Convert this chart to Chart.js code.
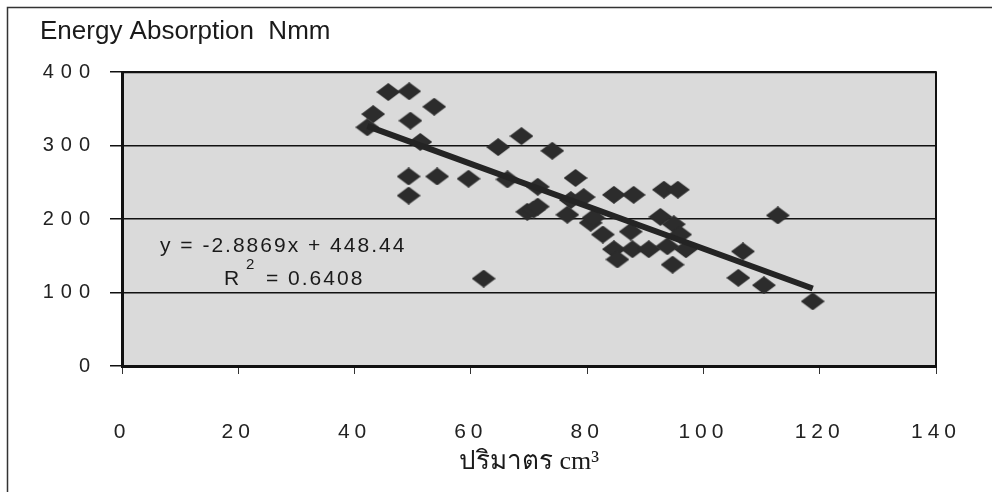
<!DOCTYPE html>
<html>
<head>
<meta charset="utf-8">
<script src="https://cdn.jsdelivr.net/npm/chart.js@4.4.1/dist/chart.umd.min.js"></script>
<style>
  html, body { margin: 0; padding: 0; background: #fff; }
  #wrap { width: 992px; height: 492px; }
</style>
</head>
<body>
<div id="wrap"><canvas id="energyChart" width="992" height="492"></canvas></div>
<script>
// specimen volume (cm3) and absorbed energy (Nmm)
const volume = [42.2, 43.2, 45.8, 49.4, 49.6, 53.7, 51.3, 49.3, 49.3, 54.2,
                59.6, 62.2, 64.7, 66.3, 68.7, 69.7, 70.8, 71.5, 71.5, 74.0,
                77.2, 76.6, 78.0, 79.4, 80.6, 81.1, 82.7, 84.6, 84.6, 85.2,
                87.5, 87.8, 88.0, 90.6, 92.6, 93.2, 93.8, 94.7, 94.9, 95.6,
                96.0, 97.0, 106.8, 106.0, 110.4, 112.8, 118.8];
const energy = [325, 343, 373, 374, 334, 353, 305, 258, 232, 258,
                255, 119, 298, 254, 313, 210, 213, 244, 217, 293,
                226, 206, 256, 230, 195, 202, 179, 233, 159, 145,
                183, 159, 233, 159, 203, 240, 163, 138, 193, 240,
                179, 159, 156, 120, 110, 205, 88];

const xTicks = [0, 20, 40, 60, 80, 100, 120, 140];
const yTicks = [0, 100, 200, 300, 400];

// linear trend line printed on the chart
const trendSlope = -2.8869;
const trendIntercept = 448.44;
const trendR2 = 0.6408;

const X_TICK_SPACING = '5px';
const Y_TICK_SPACING = '7px';

document.addEventListener("DOMContentLoaded", function() {
    const points = volume.map((v, i) => ({ x: v, y: energy[i] }));

    const xMin = Math.min(...volume);
    const xMax = Math.max(...volume);
    const trend = [xMin, xMax].map(x => ({ x: x, y: trendSlope * x + trendIntercept }));

    // wide diamond marker
    const diamond = document.createElement('canvas');
    diamond.width = 24;
    diamond.height = 18;
    const dctx = diamond.getContext('2d');
    dctx.fillStyle = '#2c2c2c';
    dctx.beginPath();
    dctx.moveTo(0, 9);
    dctx.lineTo(12, 0);
    dctx.lineTo(24, 9);
    dctx.lineTo(12, 18);
    dctx.closePath();
    dctx.fill();

    // page frame, grey plot fill and the right/top plot edges
    const plotFrame = {
        id: 'plotFrame',
        beforeDraw(chart) {
            const ctx = chart.ctx;
            const a = chart.chartArea;
            ctx.save();
            ctx.fillStyle = '#ffffff';
            ctx.fillRect(0, 0, chart.width, chart.height);
            ctx.strokeStyle = '#333';
            ctx.lineWidth = 1.5;
            ctx.beginPath();
            ctx.moveTo(7.5, chart.height);
            ctx.lineTo(7.5, 7.5);
            ctx.lineTo(chart.width, 7.5);
            ctx.stroke();
            ctx.fillStyle = '#dadada';
            ctx.fillRect(a.left, a.top, a.right - a.left, a.bottom - a.top);
            ctx.restore();

            // letter spaced tick labels
            Object.values(chart.scales).forEach(scale => {
                if (scale._spaced) return;
                const orig = scale.drawLabels;
                const spacing = scale.axis === 'x' ? X_TICK_SPACING : Y_TICK_SPACING;
                scale.drawLabels = function(area) {
                    this.ctx.save();
                    this.ctx.letterSpacing = spacing;
                    orig.call(this, area);
                    this.ctx.restore();
                };
                scale._spaced = true;
            });
        },
        beforeDatasetsDraw(chart) {
            const ctx = chart.ctx;
            const a = chart.chartArea;
            ctx.save();
            ctx.strokeStyle = '#111';
            ctx.lineWidth = 2;
            ctx.beginPath();
            ctx.moveTo(a.left, a.top);
            ctx.lineTo(a.right, a.top);
            ctx.lineTo(a.right, a.bottom);
            ctx.stroke();
            ctx.restore();
        }
    };

    // trend equation and R squared
    const trendLabel = {
        id: 'trendLabel',
        afterDatasetsDraw(chart) {
            const ctx = chart.ctx;
            ctx.save();
            ctx.fillStyle = '#1a1a1a';
            ctx.letterSpacing = '2px';
            ctx.textBaseline = 'alphabetic';
            ctx.font = '21px "Liberation Sans", Arial, sans-serif';
            ctx.fillText('y = ' + trendSlope.toFixed(4) + 'x + ' + trendIntercept.toFixed(2), 160, 252);
            ctx.fillText('R', 224, 285);
            ctx.fillText('= ' + trendR2.toFixed(4), 266, 285);
            ctx.font = '15px "Liberation Sans", Arial, sans-serif';
            ctx.fillText('2', 246, 269);
            ctx.restore();
        }
    };

    new Chart(document.getElementById('energyChart').getContext('2d'), {
        type: 'scatter',
        data: {
            datasets: [{
                type: 'line',
                label: 'Linear',
                data: trend,
                borderColor: '#242424',
                borderWidth: 6,
                pointRadius: 0,
                fill: false
            }, {
                label: 'Energy',
                data: points,
                pointStyle: diamond,
                pointRadius: 10,
                pointHoverRadius: 10
            }]
        },
        options: {
            responsive: false,
            animation: false,
            layout: { padding: { top: 16, left: 40, right: 56, bottom: 8 } },
            plugins: {
                legend: { display: false },
                tooltip: { enabled: false },
                title: {
                    display: true,
                    text: 'Energy Absorption  Nmm',
                    align: 'start',
                    color: '#1a1a1a',
                    font: { family: '"Liberation Sans", Arial, sans-serif', size: 26, weight: 'normal' },
                    padding: { top: 0, bottom: 25 }
                }
            },
            scales: {
                x: {
                    type: 'linear',
                    min: xTicks[0],
                    max: xTicks[xTicks.length - 1],
                    afterBuildTicks(scale) {
                        scale.ticks = xTicks.map(v => ({ value: v }));
                    },
                    afterFit(scale) {
                        scale.height = 118;
                        scale.paddingLeft = 0;
                        scale.paddingRight = 0;
                    },
                    grid: { drawOnChartArea: false, drawTicks: true, tickLength: 8, color: '#333', lineWidth: 1 },
                    border: { display: true, color: '#111', width: 3 },
                    ticks: {
                        color: '#222',
                        padding: 46,
                        maxRotation: 0,
                        font: { family: '"Liberation Sans", Arial, sans-serif', size: 21 }
                    },
                    title: {
                        display: true,
                        text: 'ปริมาตร cm³',
                        color: '#1a1a1a',
                        font: { family: '"Liberation Serif", "Times New Roman", serif', size: 26 },
                        padding: { top: 4, bottom: 6 }
                    }
                },
                y: {
                    type: 'linear',
                    min: yTicks[0],
                    max: yTicks[yTicks.length - 1],
                    afterBuildTicks(scale) {
                        scale.ticks = yTicks.map(v => ({ value: v }));
                    },
                    afterFit(scale) {
                        scale.width = 82;
                    },
                    grid: { drawOnChartArea: true, drawTicks: true, tickLength: 12, color: '#111', lineWidth: 1.5 },
                    border: { display: true, color: '#111', width: 3 },
                    ticks: {
                        color: '#222',
                        padding: 13,
                        font: { family: '"Liberation Sans", Arial, sans-serif', size: 20 }
                    }
                }
            }
        },
        plugins: [plotFrame, trendLabel]
    });
});
</script>
</body>
</html>
